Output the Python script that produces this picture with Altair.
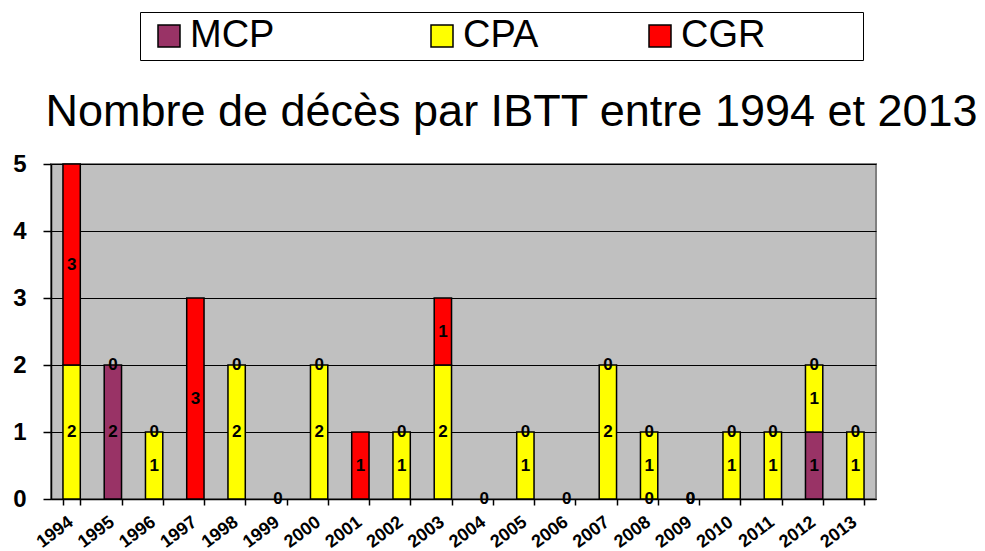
import altair as alt
import pandas as pd

years = [str(y) for y in range(1994, 2014)]
series = ["MCP", "CPA", "CGR"]
colors = ["#993366", "#FFFF00", "#FF0000"]
# None = no value (no bar, no label)
MCP = [None, 2, None, None, None, 0, None, None, None, None, 0, None, 0, None, 0, 0, None, None, 1, None]
CPA = [2, 0, 1, None, 2, None, 2, None, 1, 2, None, 1, None, 2, 1, 0, 1, 1, 1, 1]
CGR = [3, None, 0, 3, 0, None, 0, 1, 0, 1, None, 0, None, 0, 0, None, 0, 0, 0, 0]

rows = []
for i, y in enumerate(years):
    for k, (name, vals) in enumerate(zip(series, [MCP, CPA, CGR])):
        v = vals[i]
        if v is not None:
            rows.append({"year": y, "serie": name, "ordre": k, "value": v})
df = pd.DataFrame(rows)

FONT = "Liberation Sans"
BL = "\u2800"  # blank filler to widen legend entries
TH = "\u2009"
NB = "\u00a0"

base = alt.Chart(df).transform_stack(
    stack="value", groupby=["year"], as_=["y0", "y1"],
    sort=[alt.SortField("ordre", order="ascending")]
).transform_calculate(mid="(datum.y0 + datum.y1) / 2")

xenc = alt.X(
    "year:N", sort=years, title=None,
    scale=alt.Scale(paddingInner=0.58, paddingOuter=0.29),
    axis=alt.Axis(
        labelAngle=-37, labelAlign="right", labelBaseline="middle",
        labelFont=FONT, labelFontSize=18, labelFontWeight="bold", labelColor="black",
        labelPadding=15, labelOffset=-1,
        tickBand="extent", tickSize=6, tickColor="black", tickWidth=1.5,
        domainColor="black", domainWidth=1.5, grid=False,
    ),
)

yscale = alt.Scale(domain=[0, 5], nice=False)

label_expr = (
    "datum.label == 'MCP' ? 'MCP" + NB + TH + BL + "' : "
    "(datum.label == 'CGR' ? 'CGR" + TH + BL * 3 + "' : datum.label)"
)

bars = base.transform_filter("datum.value > 0").mark_bar(
    stroke="black", strokeWidth=1.5
).encode(
    x=xenc,
    y=alt.Y(
        "y0:Q", scale=yscale, title=None,
        axis=alt.Axis(
            values=[0, 1, 2, 3, 4, 5], format="d",
            labelFont=FONT, labelFontSize=24, labelFontWeight="bold", labelColor="black",
            labelPadding=17, tickSize=8, tickColor="black", tickWidth=1.5,
            domainColor="black", domainWidth=1.5,
            grid=True, gridColor="black", gridWidth=1.2,
        ),
    ),
    y2="y1:Q",
    color=alt.Color(
        "serie:N",
        scale=alt.Scale(domain=series, range=colors),
        legend=alt.Legend(
            title=None, orient="none", direction="horizontal",
            legendX=89, legendY=-152,
            strokeColor="black", padding=5,
            symbolType="square", symbolSize=484, symbolStrokeColor="black",
            symbolStrokeWidth=1.5, symbolOffset=5,
            labelFont=FONT, labelFontSize=38, labelColor="black", labelOffset=2,
            labelLimit=500, columnPadding=97,
            labelExpr=label_expr,
        ),
    ),
)

labels = base.mark_text(
    font=FONT, fontSize=17, fontWeight="bold", color="black", baseline="middle"
).encode(
    x=alt.X("year:N", sort=years),
    y=alt.Y("mid:Q", scale=yscale),
    text=alt.Text("value:Q", format="d"),
)

chart = alt.layer(bars, labels).properties(
    width=825, height=335,
    autosize=alt.AutoSizeParams(type="none"),
    padding={"left": 43, "top": 156, "right": 101, "bottom": 52},
    title=alt.TitleParams(
        "Nombre de décès par IBTT entre 1994 et 2013",
        font=FONT, fontSize=45, fontWeight="normal", color="black",
        anchor="middle", frame="group", dx=48, offset=-159, baseline="alphabetic",
    ),
).configure_view(
    fill="#C0C0C0", stroke="#808080", strokeWidth=2
)

chart.save("out.html", embed_options={"renderer": "svg", "actions": False})
